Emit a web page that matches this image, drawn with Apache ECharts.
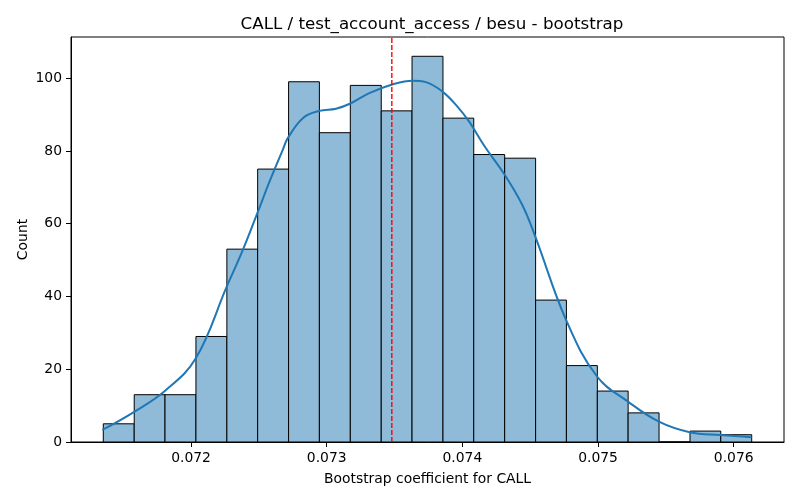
<!DOCTYPE html>
<html>
<head>
<meta charset="utf-8">
<title>CALL / test_account_access / besu - bootstrap</title>
<script src="https://cdn.jsdelivr.net/npm/echarts@6/dist/echarts.min.js"></script>
<style>
    html, body { margin: 0; padding: 0; background: #fff; }
    #main { width: 800px; height: 500px; }
</style>
</head>
<body>
<div id="main"></div>
<script>
//直方图的分箱边界
var binEdges = [0.071353, 0.071581, 0.071808, 0.072036, 0.072264, 0.072491, 0.072719,
    0.072946, 0.073174, 0.073402, 0.073629, 0.073857, 0.074084, 0.074312, 0.074540,
    0.074767, 0.074995, 0.075222, 0.075450, 0.075678, 0.075905, 0.076133];
//每个分箱的计数
var binCounts = [5, 13, 13, 29, 53, 75, 99, 85, 98, 91, 106, 89, 79, 78, 39, 21, 14, 8, 0, 3, 2];

//KDE曲线 (按计数缩放)
var kdeX = [0.071346, 0.071581, 0.071809, 0.072035, 0.072263, 0.072382, 0.072493, 0.072579,
    0.072676, 0.072713, 0.072824, 0.072946, 0.073069, 0.073179, 0.073314, 0.073478,
    0.073632, 0.073731, 0.073853, 0.073951, 0.074049, 0.074160, 0.074307, 0.074441,
    0.074537, 0.074765, 0.074993, 0.075221, 0.075449, 0.075676, 0.075904, 0.076132];
var kdeY = [3.3, 8.3, 14.1, 23.0, 42.7, 52.8, 63.3, 71.6,
    80.3, 83.5, 89.0, 91.0, 91.6, 93.1, 95.9, 98.2,
    99.3, 98.9, 96.3, 92.7, 88.1, 81.5, 73.7, 65.2,
    56.5, 33.5, 18.0, 11.1, 5.6, 2.7, 1.9, 1.3];

//均值参考线
var refLine = 0.07348;

var xTicks = [0.072, 0.073, 0.074, 0.075, 0.076];
var yTicks = [0, 20, 40, 60, 80, 100];

var xMin = 0.071115, xMax = 0.076371;
var yMax = 111.3;

var barData = [];
for (var i = 0; i < binCounts.length; i++) {
    barData.push([binEdges[i], binEdges[i + 1], binCounts[i]]);
}
var kdeData = [];
for (var j = 0; j < kdeX.length; j++) {
    kdeData.push([kdeX[j], kdeY[j]]);
}

var font = 'DejaVu Sans';

function renderBin(params, api) {
    var p0 = api.coord([api.value(0), 0]);
    var p1 = api.coord([api.value(1), api.value(2)]);
    return {
        type: 'rect',
        shape: { x: p0[0], y: p1[1], width: p1[0] - p0[0], height: p0[1] - p1[1] },
        style: { fill: '#8fbbd9', stroke: '#000', lineWidth: 1 }
    };
}

var myChart = echarts.init(document.getElementById('main'));
myChart.setOption({
    animation: false,
    backgroundColor: '#fff',
    title: {
        text: 'CALL / test_account_access / besu - bootstrap',
        left: 427,
        textAlign: 'center',
        top: 11,
        textStyle: { fontFamily: font, fontSize: 16.7, fontWeight: 'normal', color: '#000' }
    },
    grid: {
        left: 71, right: 16, top: 37, bottom: 58,
        show: true, borderColor: '#000', borderWidth: 1
    },
    xAxis: {
        type: 'value',
        min: xMin,
        max: xMax,
        name: 'Bootstrap coefficient for CALL',
        nameLocation: 'middle',
        nameGap: 30,
        nameMoveOverlap: false,
        nameTextStyle: { fontFamily: font, fontSize: 13.9, color: '#000' },
        axisLine: { show: true, onZero: false, lineStyle: { color: '#000', width: 1 } },
        axisTick: { show: true, inside: false, length: 5, lineStyle: { color: '#000' }, customValues: xTicks },
        axisLabel: {
            margin: 9,
            fontFamily: font, fontSize: 13.9, color: '#000',
            customValues: xTicks,
            formatter: function (v) { return v.toFixed(3); }
        },
        splitLine: { show: false }
    },
    yAxis: {
        type: 'value',
        min: 0,
        max: yMax,
        name: 'Count',
        nameLocation: 'middle',
        nameGap: 41,
        nameMoveOverlap: false,
        nameTextStyle: { fontFamily: font, fontSize: 13.9, color: '#000' },
        axisLine: { show: true, lineStyle: { color: '#000', width: 1 } },
        axisTick: { show: true, inside: false, length: 5, lineStyle: { color: '#000' }, customValues: yTicks },
        axisLabel: {
            margin: 9,
            fontFamily: font, fontSize: 13.9, color: '#000',
            customValues: yTicks
        },
        splitLine: { show: false }
    },
    series: [
        {
            type: 'custom',
            renderItem: renderBin,
            data: barData,
            encode: { x: [0, 1], y: 2 },
            z: 2
        },
        {
            type: 'line',
            data: kdeData,
            smooth: 0.4,
            showSymbol: false,
            lineStyle: { color: '#1f77b4', width: 2 },
            z: 3
        },
        {
            //红色虚线
            type: 'line',
            data: [[refLine, 0], [refLine, yMax]],
            showSymbol: false,
            silent: true,
            lineStyle: { color: '#ff0000', type: [5, 2], width: 1.4 },
            z: 4
        }
    ]
});
</script>
</body>
</html>
